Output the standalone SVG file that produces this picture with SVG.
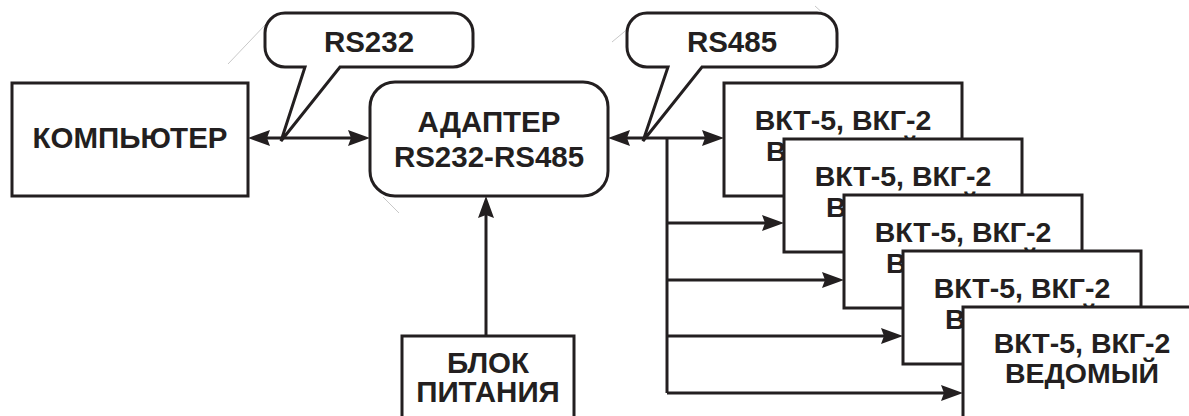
<svg xmlns="http://www.w3.org/2000/svg" width="1189" height="416" viewBox="0 0 1189 416">
<style>
.box{fill:#fff;stroke:#231f20;stroke-width:3}
.ln{fill:none;stroke:#231f20;stroke-width:3}
.faint{fill:none;stroke:#c8c8c8;stroke-width:1}
.t{font-family:"Liberation Sans",Arial,sans-serif;font-weight:bold;font-size:29.5px;fill:#231f20;text-anchor:middle}
.s{font-size:28.5px}
</style>
<defs>
<marker id="ah" markerUnits="userSpaceOnUse" markerWidth="22" markerHeight="17" refX="16" refY="8" orient="auto-start-reverse" viewBox="0 0 22 16">
<path d="M0,0 L22,8 L0,16 L3,8 Z" fill="#231f20"/>
</marker>
</defs>
<rect width="1189" height="416" fill="#fff"/>
<g id="faint-lines">
<line class="faint" x1="228" y1="64" x2="267" y2="23"/>
<line class="faint" x1="383" y1="197" x2="399" y2="213"/>
<line class="faint" x1="612" y1="42" x2="630" y2="27"/>
<line class="faint" x1="815" y1="6" x2="826" y2="16"/>
</g>
<g id="connectors">
<line class="ln" x1="254" y1="138" x2="364" y2="138" marker-start="url(#ah)" marker-end="url(#ah)"/>
<line class="ln" x1="614" y1="138" x2="718" y2="138" marker-start="url(#ah)" marker-end="url(#ah)"/>
<line class="ln" x1="486" y1="336" x2="486" y2="202" marker-end="url(#ah)"/>
<line class="ln" x1="667" y1="138" x2="667" y2="393"/>
<line class="ln" x1="667" y1="223" x2="778" y2="223" marker-end="url(#ah)"/>
<line class="ln" x1="667" y1="280" x2="838" y2="280" marker-end="url(#ah)"/>
<line class="ln" x1="667" y1="336" x2="897" y2="336" marker-end="url(#ah)"/>
<line class="ln" x1="667" y1="393" x2="957" y2="393" marker-end="url(#ah)"/>
</g>
<g id="bubble-rs232">
<path class="box" d="M285,13 H453 A20,20 0 0 1 473,33 V47 A20,20 0 0 1 453,67 H340 L281,141 L305,67 H285 A20,20 0 0 1 265,47 V33 A20,20 0 0 1 285,13 Z"/>
<text class="t" x="369" y="52">RS232</text>
</g>
<g id="bubble-rs485">
<path class="box" d="M647,13 H817 A20,20 0 0 1 837,33 V47 A20,20 0 0 1 817,67 H702 L643,141 L668,67 H647 A20,20 0 0 1 627,47 V33 A20,20 0 0 1 647,13 Z"/>
<text class="t" x="732" y="52">RS485</text>
</g>
<g id="computer">
<rect class="box" x="12" y="83" width="236" height="113"/>
<text class="t" x="130" y="148">КОМПЬЮТЕР</text>
</g>
<g id="adapter">
<rect class="box" x="370" y="82" width="238" height="114" rx="25" ry="25"/>
<text class="t" x="489" y="132">АДАПТЕР</text>
<text class="t" x="489" y="167">RS232-RS485</text>
</g>
<g id="power">
<rect class="box" x="402" y="336" width="172" height="100"/>
<text class="t" x="488" y="373">БЛОК</text>
<text class="t" x="488" y="402">ПИТАНИЯ</text>
</g>
<g id="slave1">
<rect class="box" x="724" y="83" width="238" height="113"/>
<text class="t s" x="843" y="130">ВКТ-5, ВКГ-2</text>
<text class="t s" x="843" y="161">ВЕДОМЫЙ</text>
</g>
<g id="slave2">
<rect class="box" x="784" y="139" width="238" height="113"/>
<text class="t s" x="903" y="186">ВКТ-5, ВКГ-2</text>
<text class="t s" x="903" y="217">ВЕДОМЫЙ</text>
</g>
<g id="slave3">
<rect class="box" x="844" y="195" width="238" height="113"/>
<text class="t s" x="963" y="242">ВКТ-5, ВКГ-2</text>
<text class="t s" x="963" y="273">ВЕДОМЫЙ</text>
</g>
<g id="slave4">
<rect class="box" x="903" y="251" width="238" height="113"/>
<text class="t s" x="1022" y="298">ВКТ-5, ВКГ-2</text>
<text class="t s" x="1022" y="329">ВЕДОМЫЙ</text>
</g>
<g id="slave5">
<rect class="box" x="963" y="307" width="238" height="130"/>
<text class="t s" x="1082" y="353">ВКТ-5, ВКГ-2</text>
<text class="t s" x="1082" y="383">ВЕДОМЫЙ</text>
</g>
</svg>
